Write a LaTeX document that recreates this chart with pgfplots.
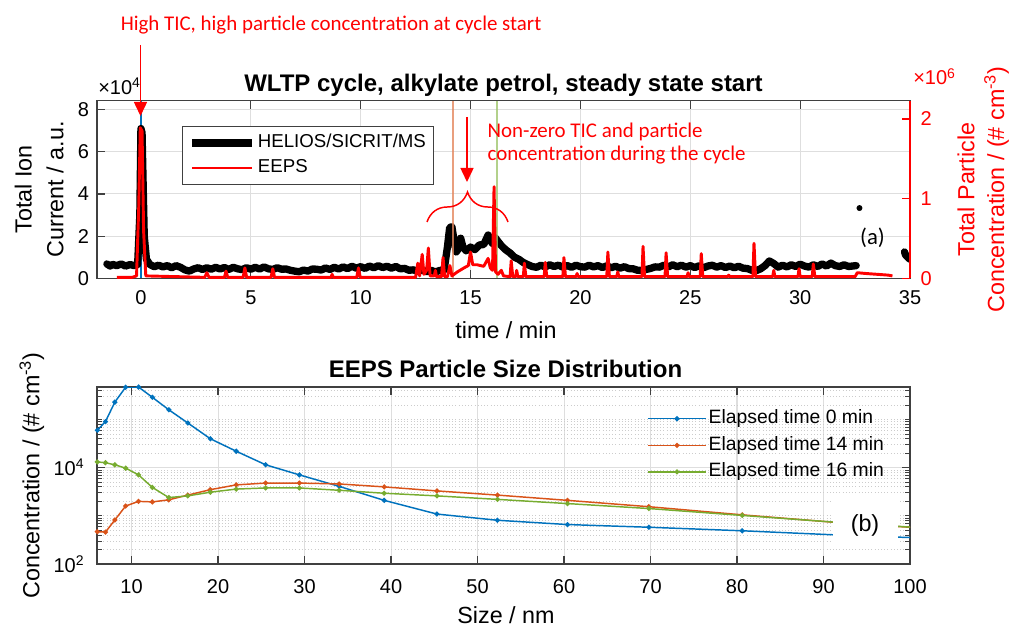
\documentclass[border=0pt]{standalone}
\usepackage{fontspec}
\setmainfont{Liberation Sans}
\newfontfamily\calibri{Carlito}
\usepackage{pgfplots}
\pgfplotsset{compat=1.18}
\usetikzlibrary{arrows.meta,decorations.pathreplacing}

\definecolor{mblue}{rgb}{0,0.447,0.741}
\definecolor{morange}{rgb}{0.85,0.325,0.098}
\definecolor{mgreen}{rgb}{0.466,0.674,0.188}
\definecolor{axgray}{rgb}{0.25,0.25,0.25}
\definecolor{gridgray}{rgb}{0.87,0.87,0.87}

\newcommand\tickfont{\fontsize{15}{18}\selectfont}
\newcommand\labfont{\fontsize{17.5}{21}\selectfont}
\newcommand\titfont{\fontsize{18}{21.6}\selectfont\bfseries}
\newcommand\annfont{\calibri\fontsize{15.7}{19}\selectfont}

\begin{document}
\begin{tikzpicture}
\path[use as bounding box] (0,0) rectangle (760.5pt,471.75pt);

% ---------------- top panel, left axis (TIC) ----------------
\begin{axis}[
  at={(72.75pt,263.03pt)}, anchor=south west,
  width=609.75pt, height=133.2pt, scale only axis,
  xmin=-2, xmax=35, ymin=0, ymax=8.42,
  xtick={0,5,...,35}, ytick={0,2,4,6,8},
  xtick pos=both, ytick pos=left,
  tick align=inside, major tick length=6pt,
  axis line style={axgray, line width=0.9pt},
  tick style={axgray, line width=0.9pt},
  grid=major, major grid style={gridgray, line width=0.8pt},
  tick label style={font=\tickfont},
  xticklabel style={yshift=-6pt},
  yticklabel style={xshift=-2.5pt},
  /pgf/number format/assume math mode=true,
]
\addplot[mblue, line width=1.2pt] coordinates {(0,0) (0,8.42)};
\addplot[black, line width=5.5pt, line join=round, line cap=round] coordinates {
(-1.55,0.68) (-1.4,0.58) (-1.3,0.66) (-1.1,0.60) (-0.9,0.68) (-0.7,0.58) (-0.5,0.65) (-0.3,0.60)
(-0.15,0.66) (-0.05,3.0) (0,7.1) (0.05,6.9) (0.15,2.0) (0.25,0.9) (0.4,0.66)
(0.6,0.55) (0.8,0.62) (1.0,0.54) (1.2,0.60) (1.4,0.50) (1.6,0.60) (1.8,0.52)
(2.0,0.40) (2.2,0.34) (2.4,0.44) (2.6,0.50) (2.8,0.42) (3.0,0.50) (3.2,0.43)
(3.4,0.52) (3.6,0.44) (3.8,0.51) (4.0,0.42) (4.2,0.52) (4.4,0.45) (4.6,0.41)
(4.8,0.50) (5.0,0.43) (5.2,0.52) (5.4,0.44) (5.6,0.54) (5.8,0.45) (6.0,0.42)
(6.2,0.50) (6.4,0.43) (6.6,0.44) (6.8,0.38) (7.0,0.34) (7.2,0.31) (7.4,0.39)
(7.6,0.34) (7.8,0.44) (8.0,0.43) (8.2,0.39) (8.4,0.49) (8.6,0.42) (8.8,0.52)
(9.0,0.44) (9.2,0.54) (9.4,0.46) (9.6,0.57) (9.8,0.48) (10.0,0.55) (10.2,0.47)
(10.4,0.58) (10.6,0.50) (10.8,0.60) (11.0,0.51) (11.2,0.57) (11.4,0.48) (11.6,0.56)
(11.8,0.45) (12.0,0.47) (12.2,0.38) (12.4,0.40) (12.6,0.33) (12.8,0.39) (13.0,0.31)
(13.2,0.38) (13.4,0.30) (13.6,0.37) (13.8,0.40) (13.95,1.5) (14.05,2.4) (14.15,2.45)
(14.25,1.8) (14.35,1.25) (14.45,1.4) (14.55,1.9) (14.65,1.5) (14.8,1.30) (15.0,1.48)
(15.2,1.36) (15.4,1.58) (15.6,1.60) (15.8,2.05) (15.9,1.8) (16.0,1.65) (16.1,1.95)
(16.25,1.75) (16.4,1.55) (16.6,1.35) (16.8,1.2) (17.0,1.0) (17.2,0.9) (17.4,0.75)
(17.6,0.65) (17.8,0.56) (18.0,0.52) (18.2,0.62) (18.4,0.54) (18.6,0.64) (18.8,0.56)
(19.0,0.62) (19.2,0.53) (19.4,0.60) (19.6,0.52) (19.8,0.62) (20.0,0.55) (20.2,0.53)
(20.4,0.62) (20.6,0.54) (20.8,0.60) (21.0,0.51) (21.2,0.59) (21.4,0.50) (21.6,0.57)
(21.8,0.48) (22.0,0.55) (22.2,0.46) (22.4,0.45) (22.6,0.38) (22.8,0.37) (23.0,0.42)
(23.2,0.47) (23.4,0.54) (23.6,0.53) (23.8,0.62) (24.0,0.54) (24.2,0.64) (24.4,0.55)
(24.6,0.62) (24.8,0.53) (25.0,0.60) (25.2,0.51) (25.4,0.59) (25.6,0.50) (25.8,0.58)
(26.0,0.62) (26.2,0.53) (26.4,0.60) (26.6,0.51) (26.8,0.58) (27.0,0.50) (27.2,0.57)
(27.4,0.48) (27.6,0.46) (27.8,0.38) (28.0,0.36) (28.2,0.45) (28.4,0.60) (28.6,0.82)
(28.8,0.70) (29.0,0.53) (29.2,0.62) (29.4,0.54) (29.6,0.64) (29.8,0.56) (30.0,0.67)
(30.2,0.58) (30.4,0.53) (30.6,0.64) (30.8,0.56) (31.0,0.68) (31.2,0.58) (31.4,0.72)
(31.6,0.60) (31.8,0.56) (32.0,0.64) (32.2,0.56) (32.55,0.60)
};
\addplot[black, line width=5.5pt, line join=round, line cap=round] coordinates {
(34.75,1.25) (34.8,1.1) (34.9,1.0) (35.0,0.9)
};
\addplot[black, only marks, mark=*, mark size=2pt] coordinates {(32.7,3.33)};
\addplot[morange!70, opacity=0.8, line width=1.2pt] coordinates {(14.2,0) (14.2,8.42)};
\addplot[mgreen!70, opacity=0.8, line width=1.2pt] coordinates {(16.2,0) (16.2,8.42)};
\end{axis}

% ---------------- top panel, right axis (EEPS) ----------------
\begin{axis}[
  at={(72.75pt,263.03pt)}, anchor=south west,
  width=609.75pt, height=133.2pt, scale only axis,
  xmin=-2, xmax=35, ymin=0, ymax=2.23,
  axis y line*=right, axis x line=none,
  ytick={0,1,2},
  tick align=inside, major tick length=6pt,
  y axis line style={red, line width=0.9pt},
  ytick style={red, line width=0.9pt},
  yticklabel style={red, font=\tickfont, xshift=4.5pt},
  /pgf/number format/assume math mode=true,
  legend image code/.code={\draw[#1] (0pt,0pt) -- (45pt,0pt);},
  legend cell align=left,
  legend style={at={(0.1046,0.8575)}, anchor=north west, draw=axgray, line width=0.8pt,
    fill=white, font=\fontsize{14}{16.8}\selectfont, inner xsep=4.5pt, inner ysep=4pt,
    row sep=1.9pt, nodes={inner sep=1.5pt, text height=10.5pt, text depth=3.3pt}},
]
\addlegendimage{black, line width=5.5pt}
\addlegendentry{HELIOS/SICRIT/MS}
\addplot[red, line width=2.2pt, line join=round] coordinates {
(-1.1,0.012) (-0.4,0.012) (-0.2,0.03) (-0.1,0.9) (-0.03,1.89) (0.05,1.85) (0.12,0.6)
(0.22,0.03) (2.9,0.012) (3.0,0.07) (3.1,0.012) (3.8,0.012) (3.87,0.09) (3.95,0.012)
(4.65,0.012) (4.73,0.13) (4.81,0.012) (5.92,0.012) (6.0,0.12) (6.08,0.012)
(8.65,0.012) (8.7,0.05) (8.75,0.012) (9.82,0.012) (9.9,0.13) (9.98,0.012)
(12.5,0.012) (12.6,0.19) (12.68,0.03) (12.8,0.3) (12.88,0.05) (13.0,0.1) (13.08,0.38)
(13.16,0.03) (13.35,0.03) (13.4,0.1) (13.45,0.02) (13.68,0.02) (13.75,0.26) (13.82,0.02)
(13.95,0.02) (14.06,0.16) (14.15,0.03) (14.4,0.08) (14.7,0.13) (14.9,0.16) (15.0,0.33)
(15.1,0.17) (15.3,0.17) (15.6,0.15) (15.8,0.25) (15.9,0.13) (16.0,0.1) (16.07,1.15)
(16.14,0.08) (16.25,0.05) (16.4,0.1) (16.5,0.03) (16.8,0.02) (16.85,0.22) (16.92,0.02)
(17.05,0.02) (17.1,0.1) (17.15,0.02) (17.4,0.02) (17.45,0.19) (17.52,0.02)
(18.35,0.02) (18.4,0.2) (18.47,0.02) (19.2,0.02) (19.25,0.26) (19.32,0.02)
(19.8,0.02) (19.85,0.06) (19.9,0.02) (21.2,0.02) (21.25,0.33) (21.32,0.02)
(21.65,0.02) (21.7,0.08) (21.75,0.02) (22.8,0.02) (22.85,0.40) (22.92,0.02)
(23.85,0.02) (23.9,0.32) (23.97,0.02) (24.85,0.02) (24.9,0.07) (24.95,0.02)
(25.45,0.02) (25.5,0.31) (25.57,0.02) (26.7,0.02) (26.75,0.04) (26.8,0.02)
(27.85,0.02) (27.9,0.44) (27.97,0.02) (28.75,0.02) (28.8,0.1) (28.85,0.02)
(29.9,0.02) (29.95,0.12) (30.0,0.02) (30.55,0.02) (30.6,0.18) (30.67,0.02)
(32.5,0.02) (32.6,0.07) (33.0,0.06) (33.5,0.05) (34.0,0.04) (34.2,0.03)
};
\addlegendentry{EEPS}
\end{axis}

% ---------------- bottom panel ----------------
\begin{axis}[
  at={(72.75pt,48.75pt)}, anchor=south west,
  width=609.75pt, height=132.75pt, scale only axis,
  ymode=log, xmin=6, xmax=100, ymin=100, ymax=4.75e5,
  xtick={10,20,...,100}, ytick={100,10000},
  yticklabels={10\textsuperscript{2},10\textsuperscript{4}},
  minor ytick={200,300,400,500,600,700,800,900,1000,2000,3000,4000,5000,6000,7000,8000,9000,
    20000,30000,40000,50000,60000,70000,80000,90000,100000,200000,300000,400000},
  tick align=inside, major tick length=6pt, minor tick length=3.5pt,
  axis line style={axgray, line width=0.9pt},
  tick style={axgray, line width=0.9pt},
  minor tick style={axgray, line width=0.6pt},
  grid=both, major grid style={gridgray, line width=0.8pt},
  minor grid style={gray!40, dotted, line width=0.6pt},
  tick label style={font=\tickfont},
  xticklabel style={yshift=-8pt},
  yticklabel style={xshift=-6pt},
  /pgf/number format/assume math mode=true,
  every axis plot/.append style={line width=1.1pt, mark=*, mark size=1.3pt, mark options={solid}},
  legend image code/.code={\draw[mark repeat=2,mark phase=2,#1, line width=1.1pt] plot coordinates {(0pt,0pt) (21.75pt,0pt) (43.5pt,0pt)};},
  legend cell align=left,
  legend style={at={(0.6765,0.888)}, anchor=north west, draw=none, fill=none,
    font=\fontsize{14.5}{17.4}\selectfont, inner sep=0pt, row sep=2.4pt,
    nodes={inner sep=1.5pt, text height=11pt, text depth=3.5pt}},
]
\addplot[mblue] coordinates {
(6.04,6.0e4) (6.98,9.1e4) (8.06,2.3e5) (9.31,4.7e5) (10.8,4.75e5) (12.4,2.9e5)
(14.3,1.6e5) (16.5,8.5e4) (19.1,4.0e4) (22.1,2.2e4) (25.5,1.15e4) (29.4,7.1e3)
(34.0,4.1e3) (39.2,2.1e3) (45.3,1.09e3) (52.3,8.1e2) (60.4,6.6e2) (69.8,5.8e2)
(80.6,4.9e2) (93.1,3.9e2) (107.5,3.2e2)};
\addlegendentry{Elapsed time 0 min}
\addplot[morange] coordinates {
(6.04,4.7e2) (6.98,4.6e2) (8.06,8.2e2) (9.31,1.6e3) (10.8,2.0e3) (12.4,1.95e3)
(14.3,2.15e3) (16.5,2.7e3) (19.1,3.5e3) (22.1,4.4e3) (25.5,4.8e3) (29.4,4.8e3)
(34.0,4.6e3) (39.2,4.0e3) (45.3,3.3e3) (52.3,2.7e3) (60.4,2.1e3) (69.8,1.55e3)
(80.6,1.05e3) (93.1,6.9e2) (107.5,4.8e2)};
\addlegendentry{Elapsed time 14 min}
\addplot[mgreen] coordinates {
(6.04,1.32e4) (6.98,1.27e4) (8.06,1.15e4) (9.31,9.8e3) (10.8,7.1e3) (12.4,3.9e3)
(14.3,2.4e3) (16.5,2.6e3) (19.1,3.1e3) (22.1,3.6e3) (25.5,3.8e3) (29.4,3.8e3)
(34.0,3.4e3) (39.2,2.95e3) (45.3,2.6e3) (52.3,2.2e3) (60.4,1.8e3) (69.8,1.42e3)
(80.6,1.02e3) (93.1,7.0e2) (107.5,4.8e2)};
\addlegendentry{Elapsed time 16 min}
\end{axis}

% ---------------- annotations and labels (px coordinates) ----------------
\begin{scope}[x=0.75pt, y=-0.75pt, yshift=471.75pt]
  % white box behind (b)
  \fill[white] (833,500) rectangle (898,548);
  \node[font=\labfont, inner sep=0pt] at (865,525) {(b)};
  \node[font=\calibri\fontsize{17}{20}\selectfont, inner sep=0pt] at (872.5,237.5) {(a)};

  % titles
  \node[font=\titfont, anchor=base, inner sep=0pt] at (503.5,91.7) {WLTP cycle, alkylate petrol, steady state start};
  \node[font=\titfont, anchor=base, inner sep=0pt] at (505.5,377.7) {EEPS Particle Size Distribution};

  % multipliers
  \node[font=\tickfont, anchor=base west, inner sep=0pt] at (98,94.3) {×10\textsuperscript{4}};
  \node[font=\tickfont, anchor=base west, inner sep=0pt, text=red] at (913,85) {×10\textsuperscript{6}};

  % x labels
  \node[font=\labfont, anchor=base, inner sep=0pt] at (506,339) {time / min};
  \node[font=\labfont, anchor=base, inner sep=0pt] at (506,623) {Size / nm};

  % y labels
  \node[font=\labfont, rotate=90, anchor=base, inner sep=0pt] at (31.7,189.5) {Total Ion};
  \node[font=\labfont, rotate=90, anchor=base, inner sep=0pt] at (63.3,189.5) {Current / a.u.};
  \node[font=\labfont, rotate=90, anchor=base, inner sep=0pt, text=red] at (974.3,189.5) {Total Particle};
  \node[font=\labfont, rotate=90, anchor=base, inner sep=0pt, text=red] at (1004,189.5) {Concentration / (\# cm\textsuperscript{-3})};
  \node[font=\labfont, rotate=90, anchor=base, inner sep=0pt] at (39.3,475.5) {Concentration / (\# cm\textsuperscript{-3})};

  % red annotations
  \node[font=\annfont, text=red, anchor=base west, inner sep=0pt] at (120.5,30.7) {High TIC, high particle concentration at cycle start};
  \node[font=\annfont, text=red, anchor=base west, inner sep=0pt] at (487.3,137.3) {Non-zero TIC and particle};
  \node[font=\annfont, text=red, anchor=base west, inner sep=0pt] at (487.3,161) {concentration during the cycle};
  \draw[red, line width=1.1pt, -{Triangle[length=10.5pt,width=9.75pt]}] (140.5,45) -- (140.5,116);
  \draw[red, line width=1.1pt, -{Triangle[length=10.5pt,width=9.75pt]}] (467,117) -- (467,182);
  \draw[red, line width=1.1pt, decorate, decoration={brace, amplitude=22.5pt}] (427,222) -- (508,222);
\end{scope}
\end{tikzpicture}
\end{document}
